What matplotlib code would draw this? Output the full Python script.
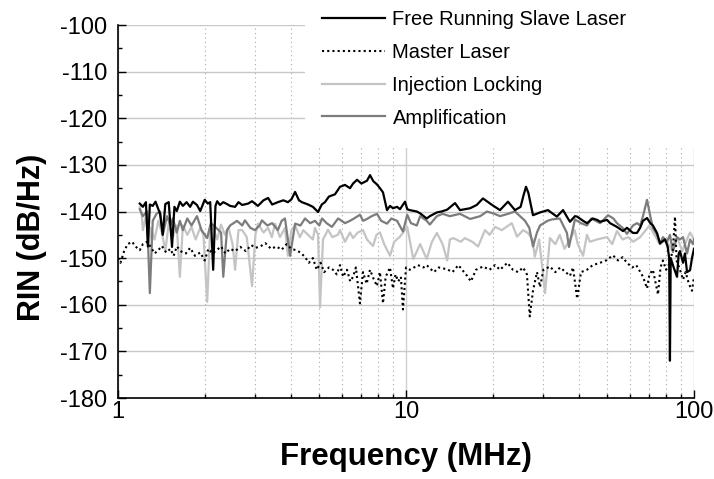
import numpy as np
import matplotlib
matplotlib.use("Agg")
import matplotlib.pyplot as plt
from matplotlib.patches import Rectangle
from matplotlib.ticker import MultipleLocator, LogLocator, FixedFormatter, FixedLocator

plt.rcParams['font.family'] = ['Liberation Sans', 'DejaVu Sans']
plt.rcParams['axes.unicode_minus'] = False

# Free Running Slave Laser (black solid)
slave_f = [1.19, 1.22, 1.25, 1.27, 1.29, 1.32, 1.35, 1.40, 1.43, 1.46, 1.50, 1.54, 1.57,
           1.60, 1.64, 1.68, 1.73, 1.78, 1.82, 1.88, 1.93, 2.00, 2.05, 2.09, 2.14, 2.18,
           2.21, 2.26, 2.32, 2.39, 2.45, 2.55, 2.62, 2.70, 2.83, 2.92, 3.06, 3.20, 3.32,
           3.43, 3.59, 3.75, 3.89, 4.00, 4.12, 4.25, 4.35, 4.57, 4.75, 4.95, 5.10, 5.23,
           5.40, 5.67, 5.90, 6.14, 6.39, 6.55, 6.76, 7.00, 7.32, 7.50, 7.70, 7.93, 8.12,
           8.32, 8.59, 8.80, 9.01, 9.31, 9.53, 9.92, 10.1, 10.3, 10.9, 11.2, 11.8, 12.1,
           12.8, 13.3, 13.9, 14.8, 15.4, 16.7, 17.6, 18.5, 19.1, 19.9, 21.2, 22.6, 23.9,
           25.0, 25.6, 26.1, 26.6, 27.6, 29.2, 31.1, 33.4, 35.1, 36.5, 37.1, 38.6, 39.3,
           41.2, 42.5, 44.5, 46.1, 47.2, 49.9, 51.1, 54.0, 56.7, 58.5, 61.4, 63.4, 65.0,
           66.5, 68.7, 70.5, 72.0, 74.4, 76.2, 79.3, 81.0, 82.0, 82.5, 83.0, 85.0, 87.3,
           88.5, 89.4, 91.6, 93.0, 94.6, 96.9, 98.4, 100.0]
slave_db = [-138.3, -139.0, -138.0, -147.5, -138.5, -138.8, -137.9, -140.5, -145.0, -138.4,
            -138.0, -147.6, -139.0, -139.9, -137.9, -138.8, -138.0, -139.0, -137.9, -138.6,
            -139.9, -137.5, -138.3, -138.0, -152.5, -138.8, -137.8, -138.6, -138.0, -138.4,
            -138.8, -139.0, -138.0, -138.6, -138.3, -137.8, -138.8, -137.6, -137.1, -138.5,
            -138.0, -137.6, -138.0, -137.4, -135.8, -137.6, -138.0, -138.5, -139.0, -140.1,
            -138.5, -138.0, -136.8, -136.3, -134.7, -134.3, -135.0, -134.0, -133.2, -134.0,
            -133.4, -132.2, -133.5, -134.2, -135.0, -135.9, -139.7, -138.8, -139.3, -139.0,
            -139.5, -137.9, -139.5, -139.7, -140.0, -140.4, -141.5, -141.0, -140.2, -140.0,
            -139.6, -138.2, -139.7, -139.3, -138.6, -137.2, -137.8, -138.6, -139.7, -137.9,
            -139.7, -139.0, -136.5, -134.7, -136.0, -140.8, -140.2, -139.7, -141.1, -139.7,
            -141.5, -142.2, -141.0, -141.1, -142.0, -142.5, -141.5, -141.8, -142.2, -141.8,
            -142.5, -143.3, -144.2, -143.5, -144.6, -144.6, -143.5, -142.0, -141.4, -142.5,
            -143.0, -144.6, -146.8, -146.0, -147.5, -150.0, -172.0, -150.0, -152.0, -154.0,
            -149.0, -148.5, -151.0, -149.0, -153.0, -152.6, -150.0, -148.0]

# Master Laser (black dotted)
master_f = [1.00, 1.02, 1.05, 1.08, 1.12, 1.15, 1.19, 1.22, 1.26, 1.30, 1.34, 1.38, 1.42,
            1.47, 1.52, 1.56, 1.60, 1.66, 1.72, 1.78, 1.85, 1.93, 2.00, 2.06, 2.13, 2.20,
            2.28, 2.36, 2.45, 2.55, 2.66, 2.78, 2.90, 3.00, 3.12, 3.25, 3.40, 3.55, 3.70,
            3.85, 4.00, 4.15, 4.30, 4.45, 4.60, 4.75, 4.90, 5.05, 5.20, 5.40, 5.58, 5.75,
            5.90, 6.05, 6.24, 6.40, 6.55, 6.70, 6.92, 7.09, 7.30, 7.50, 7.70, 7.93, 8.12,
            8.32, 8.50, 8.80, 9.01, 9.20, 9.40, 9.60, 9.76, 10.0, 10.3, 10.6, 11.0, 11.5,
            11.8, 12.5, 13.0, 13.9, 14.5, 15.2, 16.3, 16.8, 17.5, 18.5, 19.5, 20.4, 21.2,
            22.5, 23.5, 24.5, 25.5, 26.3, 26.9, 27.6, 28.5, 29.2, 30.0, 31.6, 33.0, 34.3,
            35.5, 37.1, 38.0, 39.3, 40.5, 42.5, 44.5, 47.2, 49.5, 52.3, 54.5, 56.5, 58.5,
            61.0, 63.0, 65.0, 66.5, 68.7, 70.0, 72.0, 75.0, 76.5, 78.0, 80.0, 82.5, 84.5,
            85.9, 87.0, 89.4, 91.6, 93.5, 96.0, 98.4, 100.0]
master_db = [-150.0, -151.0, -148.5, -147.0, -146.5, -147.5, -148.3, -147.0, -146.5, -147.6,
             -149.0, -148.3, -147.4, -148.8, -148.0, -149.5, -147.5, -148.6, -149.0, -147.8,
             -149.5, -148.8, -150.5, -148.0, -149.0, -148.3, -147.5, -149.0, -148.0, -148.5,
             -147.6, -148.5, -147.2, -147.8, -147.5, -146.8, -148.0, -147.5, -148.2, -147.0,
             -148.0, -148.3, -148.8, -149.7, -151.0, -150.0, -152.5, -151.0, -153.0, -152.0,
             -152.5, -153.5, -151.5, -154.0, -152.5, -155.0, -154.0, -152.0, -159.7, -153.0,
             -155.5, -152.5, -154.3, -156.0, -153.0, -159.7, -154.0, -152.0, -156.5, -153.5,
             -155.0, -154.0, -161.0, -152.0, -152.5, -152.1, -151.5, -152.0, -151.5, -153.0,
             -152.0, -152.4, -153.0, -151.5, -153.8, -155.0, -152.5, -151.8, -152.5, -151.5,
             -152.5, -151.0, -152.5, -153.0, -152.0, -153.5, -162.5, -157.0, -153.0, -156.2,
             -152.5, -151.8, -153.0, -152.0, -152.8, -153.8, -152.0, -158.7, -153.0, -152.5,
             -151.5, -151.0, -150.5, -149.4, -150.5, -149.8, -151.0, -152.0, -151.5, -152.9,
             -154.0, -156.5, -153.5, -152.5, -157.8, -152.0, -150.5, -152.5, -151.0, -148.0,
             -141.1, -150.5, -152.5, -154.6, -153.0, -155.5, -157.0, -154.0]

# Injection Locking (light gray)
inj_f = [1.19, 1.21, 1.22, 1.25, 1.28, 1.30, 1.34, 1.38, 1.42, 1.46, 1.50, 1.55, 1.60,
         1.64, 1.68, 1.74, 1.80, 1.86, 1.93, 1.98, 2.04, 2.09, 2.14, 2.21, 2.28, 2.35,
         2.42, 2.50, 2.55, 2.62, 2.70, 2.80, 2.92, 3.00, 3.06, 3.20, 3.32, 3.42, 3.51,
         3.65, 3.80, 3.89, 4.00, 4.12, 4.28, 4.40, 4.57, 4.75, 4.83, 4.95, 5.03, 5.15,
         5.36, 5.55, 5.80, 5.90, 6.14, 6.39, 6.55, 6.80, 7.09, 7.32, 7.68, 7.90, 8.12,
         8.40, 8.80, 9.10, 9.53, 10.1, 10.6, 11.2, 11.8, 12.3, 12.8, 13.4, 13.9, 14.2,
         14.6, 15.5, 16.0, 17.0, 17.8, 18.8, 19.5, 20.4, 21.5, 23.3, 24.3, 25.5, 26.5,
         27.5, 28.0, 29.0, 30.4, 31.6, 33.0, 34.2, 35.5, 37.1, 38.5, 39.5, 41.2, 42.5,
         43.5, 46.0, 49.9, 52.0, 54.0, 56.5, 59.0, 61.5, 65.0, 68.0, 70.0, 72.0, 76.2,
         80.0, 83.0, 87.3, 91.0, 94.5, 96.9, 100.0]
inj_db = [-139.0, -141.0, -144.0, -141.0, -147.0, -143.5, -146.0, -142.0, -144.5, -148.5,
          -142.5, -145.5, -143.0, -154.0, -143.0, -145.0, -143.3, -146.0, -143.5, -145.0,
          -159.4, -144.0, -143.5, -146.0, -142.8, -145.0, -143.5, -147.0, -152.5, -144.0,
          -144.0, -145.5, -156.0, -145.0, -142.6, -144.5, -143.5, -145.5, -142.6, -145.5,
          -143.5, -149.5, -144.0, -143.0, -145.5, -144.0, -145.0, -146.0, -143.5, -145.0,
          -160.5, -146.0, -143.9, -145.5, -145.0, -144.0, -146.5, -144.5, -145.7, -144.5,
          -144.0, -146.0, -147.4, -145.0, -144.5, -147.0, -149.5, -146.5, -145.4, -143.3,
          -150.2, -147.0, -150.2, -146.5, -144.6, -147.0, -150.5, -146.0, -145.7, -146.5,
          -145.7, -146.5, -147.5, -144.0, -145.0, -143.3, -144.0, -142.5, -145.4, -144.0,
          -144.6, -146.0, -149.7, -146.0, -157.5, -145.7, -147.0, -145.0, -148.0, -146.0,
          -144.0, -147.0, -149.5, -145.0, -146.5, -146.0, -145.5, -147.0, -144.2, -146.0,
          -145.5, -146.5, -145.5, -144.0, -143.0, -144.5, -147.0, -146.0, -148.0, -145.5,
          -148.5, -146.0, -144.5, -146.0]

# Amplification (mid gray)
amp_f = [1.19, 1.22, 1.26, 1.29, 1.32, 1.36, 1.40, 1.43, 1.48, 1.52, 1.55, 1.60, 1.64,
         1.68, 1.74, 1.80, 1.88, 1.95, 2.04, 2.10, 2.21, 2.28, 2.32, 2.39, 2.45, 2.59,
         2.70, 2.76, 2.88, 2.99, 3.10, 3.16, 3.30, 3.43, 3.59, 3.70, 3.80, 3.96, 4.12,
         4.30, 4.46, 4.65, 4.83, 5.00, 5.11, 5.30, 5.53, 5.81, 6.14, 6.39, 6.60, 6.92,
         7.10, 7.32, 7.60, 7.93, 8.20, 8.59, 8.90, 9.31, 9.76, 10.1, 10.4, 10.9, 11.2,
         11.8, 12.1, 12.8, 13.4, 14.2, 15.4, 16.7, 18.1, 19.1, 20.3, 21.2, 22.6, 23.9,
         25.9, 26.8, 27.6, 28.5, 29.2, 31.0, 32.1, 34.2, 36.2, 36.8, 38.6, 40.5, 42.5,
         44.0, 47.2, 50.3, 52.5, 54.0, 56.5, 58.5, 61.4, 63.4, 65.0, 66.5, 68.7, 70.5,
         72.0, 74.4, 76.2, 78.0, 80.6, 82.5, 84.5, 87.3, 89.4, 91.6, 94.6, 96.9, 99.2, 100.0]
amp_db = [-139.5, -141.0, -140.0, -157.5, -142.0, -140.5, -140.0, -145.0, -141.0, -143.0,
          -141.5, -144.5, -142.0, -144.0, -141.5, -143.0, -141.0, -144.0, -145.7, -142.5,
          -143.7, -144.5, -154.0, -144.0, -143.0, -142.0, -143.0, -141.9, -143.5, -144.0,
          -143.0, -141.9, -143.0, -142.5, -144.0, -142.0, -141.5, -149.5, -142.6, -143.0,
          -141.5, -142.5, -142.0, -143.0, -141.5, -142.5, -143.3, -141.5, -142.5, -142.0,
          -141.5, -140.7, -142.0, -141.6, -141.0, -140.5, -142.0, -142.6, -141.5, -142.0,
          -144.3, -140.7, -142.5, -143.0, -141.0, -142.0, -142.8, -141.0, -140.5, -141.0,
          -140.5, -141.6, -141.0, -140.0, -140.5, -141.0, -140.5, -140.0, -142.0, -143.5,
          -147.5, -144.5, -143.0, -142.0, -141.7, -141.5, -144.6, -147.6, -141.7, -142.5,
          -143.0, -141.5, -142.5, -140.8, -141.5, -142.5, -143.5, -144.8, -143.0, -142.5,
          -143.0, -141.0, -137.5, -141.0, -143.5, -145.0, -147.0, -145.5, -146.5, -145.0,
          -148.7, -145.5, -146.0, -145.5, -149.0, -146.0, -147.0, -146.0]

labels = ["Free Running Slave Laser", "Master Laser", "Injection Locking", "Amplification"]

fig = plt.figure(figsize=(7.14, 4.79), dpi=100)
ax = fig.add_axes([118 / 714, 1 - 398 / 479, 576 / 714, 373 / 479])

ax.plot(slave_f, slave_db, color="black", lw=1.6, label=labels[0], zorder=5)
ax.plot(master_f, master_db, color="black", lw=1.5, ls=(0, (1, 1.5)), label=labels[1], zorder=4)
ax.plot(inj_f, inj_db, color="#c4c4c4", lw=1.6, label=labels[2], zorder=2)
ax.plot(amp_f, amp_db, color="#7c7c7c", lw=1.6, label=labels[3], zorder=3)

ax.set_xscale("log")
ax.set_xlim(1, 100)
ax.set_ylim(-180, -100)
ax.xaxis.set_major_locator(FixedLocator([1, 10, 100]))
ax.xaxis.set_major_formatter(FixedFormatter(["1", "10", "100"]))
ax.xaxis.set_minor_locator(LogLocator(base=10, subs=np.arange(2, 10)))
ax.xaxis.set_minor_formatter(plt.NullFormatter())
ax.yaxis.set_major_locator(MultipleLocator(10))
ax.yaxis.set_minor_locator(MultipleLocator(5))

ax.tick_params(which="major", direction="in", length=6, width=1, labelsize=17, colors="black")
ax.tick_params(axis="y", which="major", pad=7.5)
ax.tick_params(axis="x", which="major", pad=2)
ax.tick_params(which="minor", direction="in", length=3, width=1)

for s in ["top", "right"]:
    ax.spines[s].set_visible(False)
for s in ["left", "bottom"]:
    ax.spines[s].set_linewidth(1.2)

ax.set_axisbelow(True)
ax.grid(axis="y", which="major", color="#c8c8c8", lw=1, ls="-")
ax.grid(axis="x", which="major", color="#d0d0d0", lw=1, ls="-")
ax.grid(axis="x", which="minor", color="#a8a8a8", lw=0.8, ls=(0, (1, 3)))

# white box behind the legend, hides the grid there
ax.add_patch(Rectangle(((305 - 118) / 576, (398 - 148) / 373), 1.2, 1.0,
                       transform=ax.transAxes, facecolor="white", edgecolor="none",
                       zorder=1, clip_on=False))

ax.set_xlabel("Frequency (MHz)", fontsize=22.5, fontweight="bold", labelpad=14)
ax.set_ylabel("RIN (dB/Hz)", fontsize=22, fontweight="bold")
ax.yaxis.set_label_coords(-0.124, 0.43)

leg = ax.legend(loc="upper left", bbox_to_anchor=((322 - 118) / 576, 1.039), frameon=False,
                fontsize=14.5, handlelength=3.15, handletextpad=0.35, labelspacing=0.68,
                borderpad=0, borderaxespad=0)

fig.savefig("out.png", dpi=100)
